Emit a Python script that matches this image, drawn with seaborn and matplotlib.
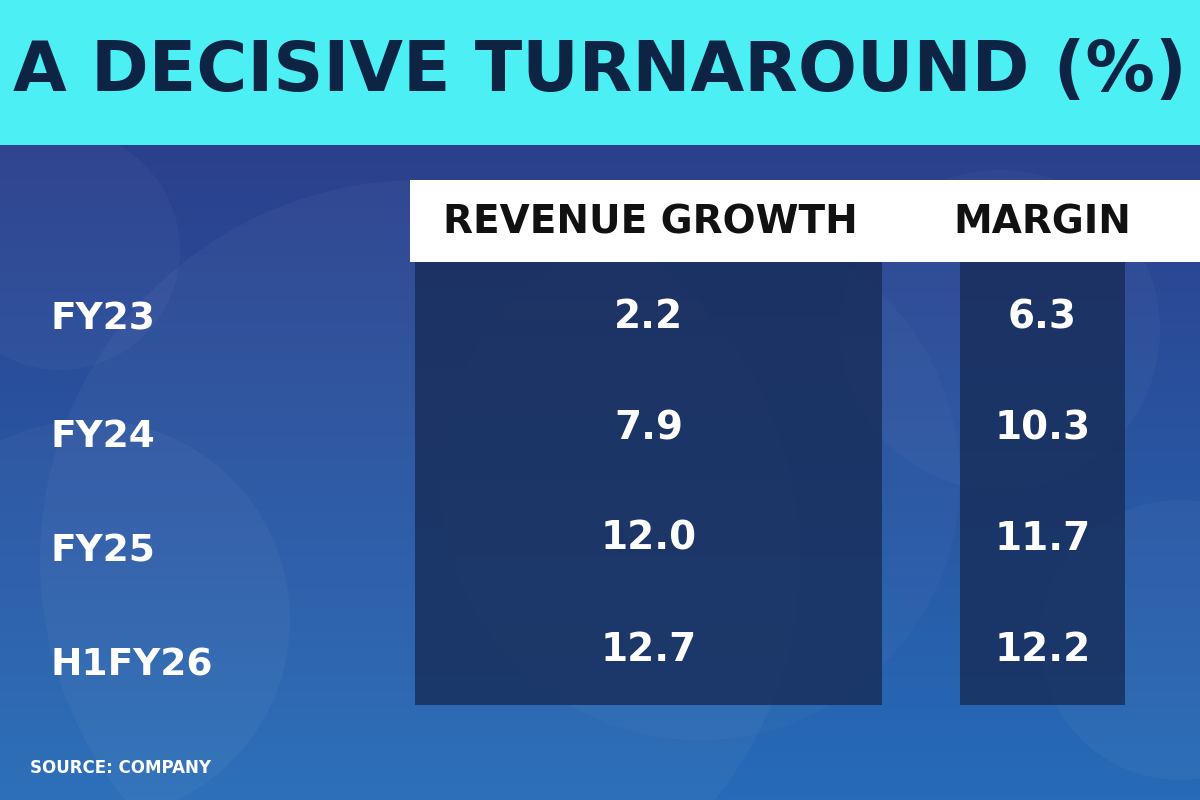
import matplotlib
matplotlib.use("Agg")
import matplotlib.pyplot as plt
from matplotlib.colors import ListedColormap
from matplotlib.patches import Rectangle, Circle
import numpy as np
import pandas as pd
import seaborn as sns

title = "A DECISIVE TURNAROUND (%)"
periods = ["FY23", "FY24", "FY25", "H1FY26"]
revenue_growth = [2.2, 7.9, 12.0, 12.7]
margin = [6.3, 10.3, 11.7, 12.2]
columns = ["REVENUE GROWTH", "MARGIN"]
source = "SOURCE: COMPANY"

sns.set_theme(style="white")
plt.rcParams['font.family'] = ['DejaVu Sans']

W, H = 1200, 800
fig = plt.figure(figsize=(12, 8), dpi=100)

# background
bg = fig.add_axes([0, 0, 1, 1])
bg.set_xlim(0, W); bg.set_ylim(H, 0); bg.axis("off")
grad = np.linspace(0, 1, 256).reshape(-1, 1)
top = np.array([0.17, 0.25, 0.55]); bot = np.array([0.15, 0.42, 0.72])
img = top + (bot - top) * grad[..., None]
img = np.repeat(img, 2, axis=1)
bg.imshow(img, extent=[0, W, H, 145], aspect="auto")
for (cx, cy, r, a) in [(420, 560, 380, 0.035), (90, 620, 200, 0.035), (1000, 330, 160, 0.03),
                       (1180, 640, 140, 0.035), (60, 250, 120, 0.03), (700, 480, 260, 0.025)]:
    bg.add_patch(Circle((cx, cy), r, facecolor="white", alpha=a, edgecolor="none"))
bg.add_patch(Rectangle((0, 0), W, 145, facecolor="#4CF0F4", edgecolor="none"))
bg.text(W / 2, 72, title, ha="center", va="center", fontsize=50, fontweight="bold",
        color="#0E2444")
bg.add_patch(Rectangle((410, 180), 790, 82, facecolor="white", edgecolor="none"))
bg.text(650, 222, columns[0], ha="center", va="center", fontsize=28, fontweight="bold", color="#111111")
bg.text(1042, 222, columns[1], ha="center", va="center", fontsize=28, fontweight="bold", color="#111111")
row_y = [320, 437, 552, 665]
for lab, y in zip(periods, row_y):
    bg.text(50, y, lab, ha="left", va="center", fontsize=27, fontweight="bold", color="white")
bg.text(30, 768, source, ha="left", va="center", fontsize=12, fontweight="bold", color="white")

cmap = ListedColormap(["#172C58"])
for vals, x0, x1 in [(revenue_growth, 415, 882), (margin, 960, 1125)]:
    ax = fig.add_axes([x0 / W, (H - 705) / H, (x1 - x0) / W, 443 / H])
    df = pd.DataFrame({"v": vals}, index=periods)
    sns.heatmap(df, ax=ax, cmap=cmap, cbar=False, annot=True, fmt=".1f", alpha=0.8,
                annot_kws={"fontsize": 28, "fontweight": "bold", "color": "white"},
                xticklabels=False, yticklabels=False)
    ax.set_xlabel(""); ax.set_ylabel("")
    ax.patch.set_alpha(0)

fig.savefig("out.png", dpi=100)
